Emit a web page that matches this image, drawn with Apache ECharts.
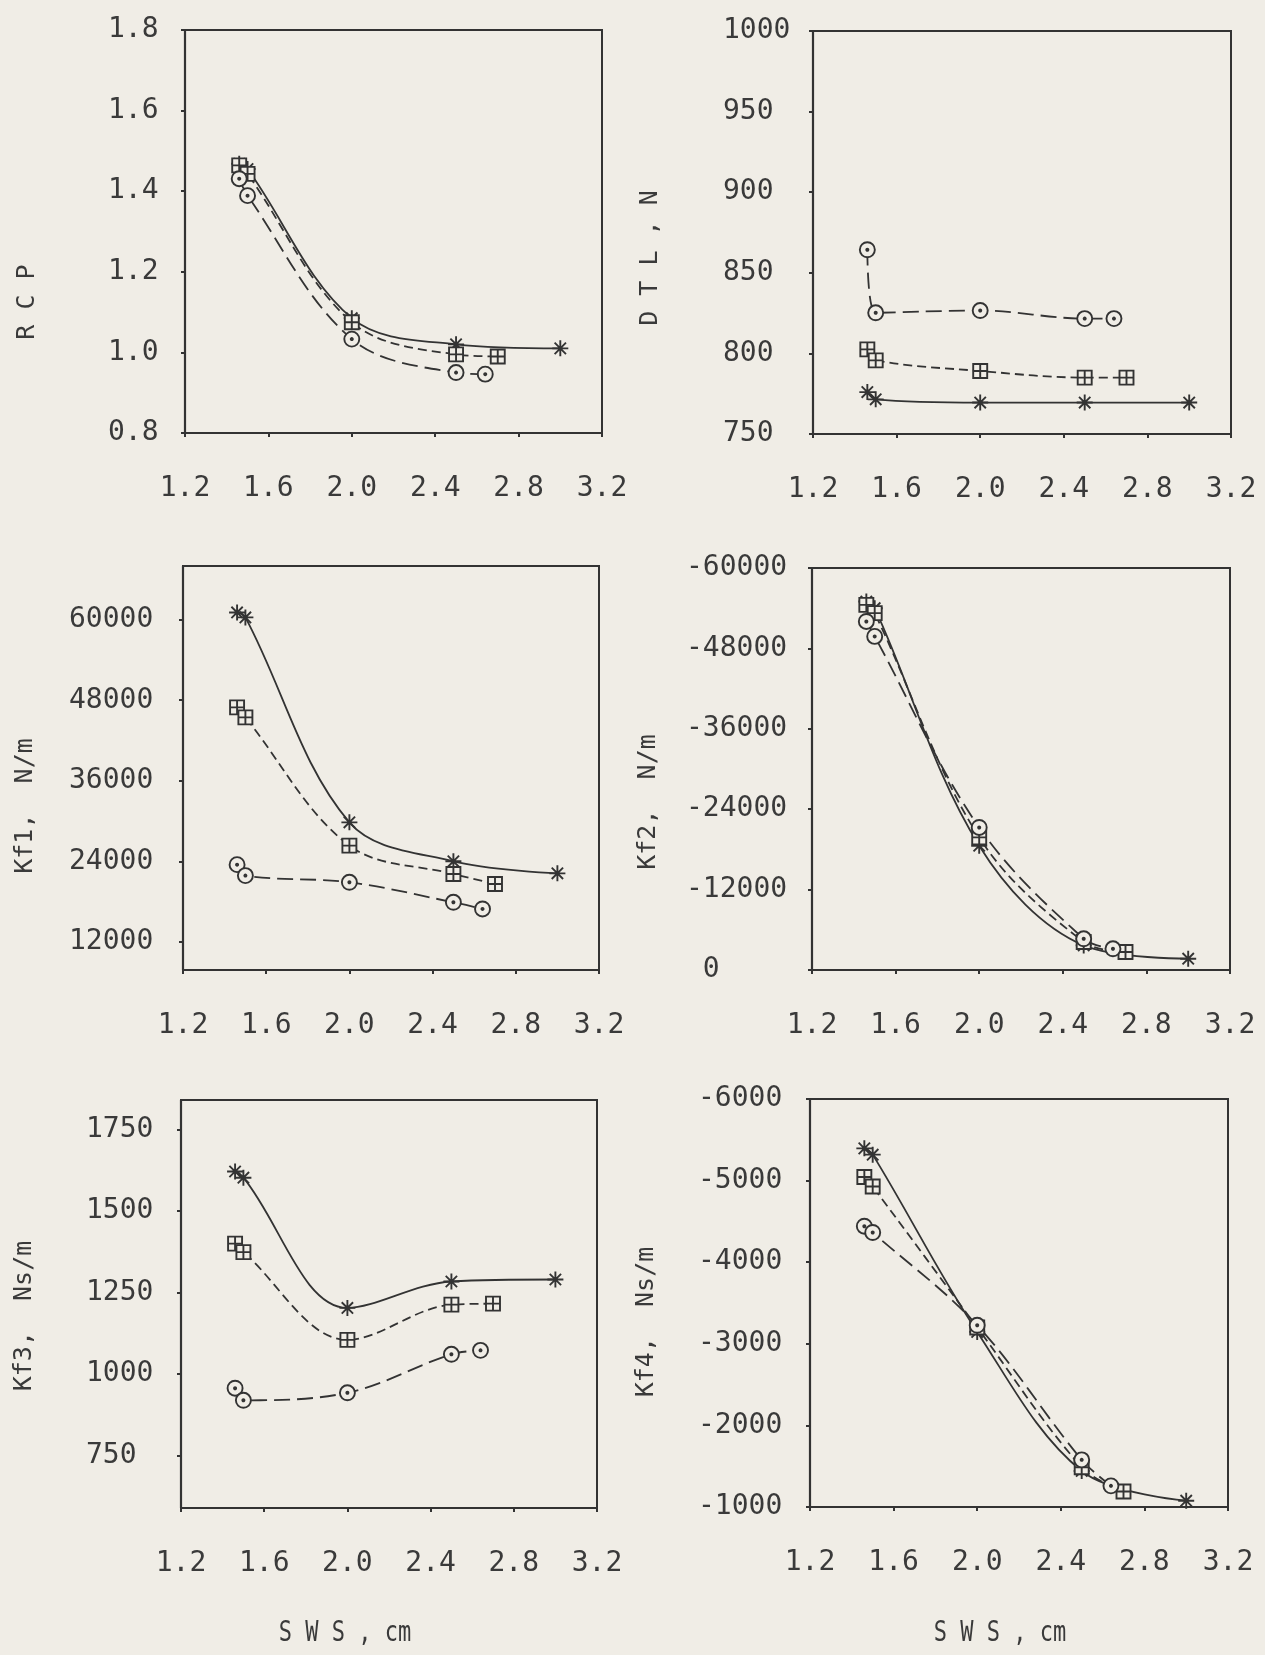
<!DOCTYPE html>
<html><head><meta charset="utf-8">
<script src="https://cdn.jsdelivr.net/npm/echarts@6/dist/echarts.min.js"></script>
<style>html,body{margin:0;padding:0;background:#f0ede6;} #c{width:1265px;height:1655px;}</style>
</head><body><div id="c"></div>
<script>
// ---------- data ----------
const X_TICKS = [1.2, 1.6, 2.0, 2.4, 2.8, 3.2];
const SWS_STAR = [1.46, 1.5, 2.0, 2.5, 3.0];
const SWS_SQUARE = [1.46, 1.5, 2.0, 2.5, 2.7];
const SWS_CIRCLE = [1.46, 1.5, 2.0, 2.5, 2.64];

const RCP_TICKS = [0.8, 1.0, 1.2, 1.4, 1.6, 1.8];
const RCP_STAR = [1.468, 1.455, 1.085, 1.02, 1.01];
const RCP_SQUARE = [1.464, 1.443, 1.075, 0.995, 0.99];
const RCP_CIRCLE = [1.431, 1.389, 1.033, 0.95, 0.946];

const DTL_TICKS = [750, 800, 850, 900, 950, 1000];
const DTL_STAR = [776, 771.5, 769.5, 769.5, 769.5];
const DTL_SQUARE = [802.5, 795.7, 789.1, 785, 785];
const DTL_CIRCLE = [864.3, 825.2, 826.6, 821.6, 821.6];

const KF1_TICKS = [12000, 24000, 36000, 48000, 60000];
const KF1_STAR = [61080, 60340, 29800, 24000, 22200];
const KF1_SQUARE = [46930, 45440, 26330, 22110, 20620];
const KF1_CIRCLE = [23500, 21870, 20870, 17890, 16900];

const KF2_TICKS = [-60000, -48000, -36000, -24000, -12000, 0];
const KF2_STAR = [-55000, -54000, -18550, -3670, -1690];
const KF2_SQUARE = [-54500, -53260, -19790, -4170, -2680];
const KF2_CIRCLE = [-52020, -49790, -21270, -4660, -3170];

const KF3_TICKS = [750, 1000, 1250, 1500, 1750];
const KF3_STAR = [1621, 1602, 1203, 1284, 1290];
const KF3_SQUARE = [1400, 1374, 1105, 1213, 1216];
const KF3_CIRCLE = [957, 920, 943, 1061, 1073];

const KF4_TICKS = [-6000, -5000, -4000, -3000, -2000, -1000];
const KF4_STAR = [-5395, -5318, -3146, -1441, -1077];
const KF4_SQUARE = [-5045, -4927, -3200, -1487, -1190];
const KF4_CIRCLE = [-4441, -4364, -3227, -1578, -1259];

const Y_NAMES = ['R C P', 'D T L , N', 'Kf1,  N/m', 'Kf2,  N/m', 'Kf3,  Ns/m', 'Kf4,  Ns/m'];
const X_NAME = 'S W S , cm';

// ---------- styling / layout ----------
const BG = '#f0ede6';
const INK = '#333333';
const TXT = '#3a3a3a';
const FONT = '"DejaVu Sans Mono", monospace';

const SYM_STAR = 'path://M10 0V20M0 10H20M2.9 2.9L17.1 17.1M17.1 2.9L2.9 17.1';
const SYM_SQUARE = 'path://M0 0H20V20H0ZM10 0V20M0 10H20';
const SYM_CIRCLE = 'path://M10 0A10 10 0 1 1 10 20A10 10 0 1 1 10 0ZM10 8.6A1.4 1.4 0 1 1 10 11.4A1.4 1.4 0 1 1 10 8.6Z';

const PANELS = [
  {grid: {left: 185, top: 30, width: 417, height: 403}, min: 0.8, max: 1.8, inverse: false, ticks: RCP_TICKS, dec: 1, margin: 77,
   data: [RCP_STAR, RCP_SQUARE, RCP_CIRCLE], name: {x: 27, y: 302}},
  {grid: {left: 813, top: 31, width: 418, height: 403}, min: 750, max: 1000, inverse: false, ticks: DTL_TICKS, dec: 0, margin: 90,
   data: [DTL_STAR, DTL_SQUARE, DTL_CIRCLE], name: {x: 650, y: 258}},
  {grid: {left: 183, top: 566, width: 416, height: 404}, min: 7800, max: 68000, inverse: false, ticks: KF1_TICKS, dec: 0, margin: 114,
   data: [KF1_STAR, KF1_SQUARE, KF1_CIRCLE], name: {x: 25, y: 806}},
  {grid: {left: 812, top: 568, width: 418, height: 402}, min: -60000, max: 0, inverse: true, ticks: KF2_TICKS, dec: 0, margin: 126,
   data: [KF2_STAR, KF2_SQUARE, KF2_CIRCLE], name: {x: 648, y: 802}},
  {grid: {left: 181, top: 1100, width: 416, height: 408}, min: 590, max: 1840, inverse: false, ticks: KF3_TICKS, dec: 0, margin: 95,
   data: [KF3_STAR, KF3_SQUARE, KF3_CIRCLE], name: {x: 24, y: 1316}},
  {grid: {left: 810, top: 1099, width: 418, height: 408}, min: -6000, max: -1000, inverse: true, ticks: KF4_TICKS, dec: 0, margin: 112,
   data: [KF4_STAR, KF4_SQUARE, KF4_CIRCLE], name: {x: 646, y: 1322}}
];

const SERIES_STYLE = [
  {xs: SWS_STAR, symbol: SYM_STAR, size: 16, fill: INK, dash: 'solid'},
  {xs: SWS_SQUARE, symbol: SYM_SQUARE, size: 14, fill: BG, dash: [9, 5]},
  {xs: SWS_CIRCLE, symbol: SYM_CIRCLE, size: 15, fill: BG, dash: [16, 7]}
];

const grids = [], xAxes = [], yAxes = [], series = [], graphics = [];
PANELS.forEach((p, i) => {
  grids.push(Object.assign({show: true, borderColor: INK, borderWidth: 2, backgroundColor: 'transparent'}, p.grid));
  xAxes.push({
    type: 'value', gridIndex: i, min: 1.2, max: 3.2, interval: 0.4,
    axisLine: {show: true, lineStyle: {color: INK, width: 2.2}},
    axisTick: {show: true, length: 4, customValues: X_TICKS, lineStyle: {color: INK, width: 2}},
    axisLabel: {customValues: X_TICKS, margin: 42, fontSize: 28, fontFamily: FONT, color: TXT,
      formatter: v => v.toFixed(1)},
    splitLine: {show: false}
  });
  yAxes.push({
    type: 'value', gridIndex: i, min: p.min, max: p.max, inverse: p.inverse,
    axisLine: {show: true, lineStyle: {color: INK, width: 2.2}},
    axisTick: {show: true, length: 4, customValues: p.ticks, lineStyle: {color: INK, width: 2}},
    axisLabel: {customValues: p.ticks, margin: p.margin, align: 'left', fontSize: 28, fontFamily: FONT, color: TXT,
      formatter: v => p.dec ? v.toFixed(p.dec) : (v === 0 ? ' 0' : String(Math.round(v)))},
    splitLine: {show: false}
  });
  SERIES_STYLE.forEach((s, k) => {
    series.push({
      type: 'line', xAxisIndex: i, yAxisIndex: i, smooth: 0.35,
      data: s.xs.map((x, j) => [x, p.data[k][j]]),
      symbol: s.symbol, symbolSize: s.size, symbolKeepAspect: true,
      itemStyle: {color: s.fill, borderColor: INK, borderWidth: 1.9},
      lineStyle: {color: INK, width: 1.8, type: s.dash},
      silent: true, animation: false, z: 3
    });
  });
  graphics.push({
    type: 'text', x: p.name.x, y: p.name.y, rotation: Math.PI / 2,
    style: {text: Y_NAMES[i], font: '25px ' + FONT, fill: TXT,
      align: 'center', verticalAlign: 'middle', textAlign: 'center', textVerticalAlign: 'middle'}
  });
});
[{x: 345, y: 1634}, {x: 1000, y: 1634}].forEach(pos => {
  graphics.push({
    type: 'text', x: pos.x, y: pos.y, scaleY: 1.3,
    style: {text: X_NAME, font: '22px ' + FONT, fill: TXT,
      align: 'center', verticalAlign: 'middle', textAlign: 'center', textVerticalAlign: 'middle'}
  });
});

const chart = echarts.init(document.getElementById('c'), null, {renderer: 'canvas', width: 1265, height: 1655});
chart.setOption({
  backgroundColor: BG,
  animation: false,
  textStyle: {fontFamily: FONT},
  grid: grids, xAxis: xAxes, yAxis: yAxes, series: series, graphic: graphics
});
</script></body></html>
